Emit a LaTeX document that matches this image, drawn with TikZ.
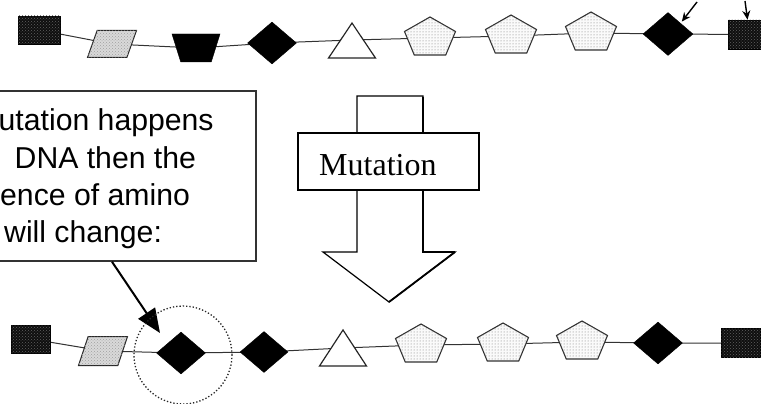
\documentclass[tikz,border=0pt]{standalone}
\usepackage{fontspec}
\setmainfont{Liberation Sans}
\newfontfamily\mutserif{Liberation Serif}
\usetikzlibrary{shapes.geometric,arrows.meta,patterns,backgrounds}
\begin{document}
\begin{tikzpicture}[x=1pt,y=-1pt,
  link/.style={draw=black!80, line width=1pt},
  darksq/.style={rectangle, draw=black, fill=black!94, inner sep=0pt, line width=0.8pt,
     postaction={pattern=crosshatch dots, pattern color=black!62}},
  para/.style={trapezium, trapezium left angle=72, trapezium right angle=108, trapezium stretches,
     draw=black!85, fill=gray!30, minimum width=49pt, minimum height=27pt, inner sep=0.5pt, line width=1pt,
     postaction={pattern=crosshatch dots, pattern color=gray!75}},
  trap/.style={trapezium, trapezium left angle=106, trapezium right angle=106, trapezium stretches,
     fill=black, draw=black, minimum width=48pt, minimum height=28pt, inner sep=0.5pt},
  dia/.style={diamond, fill=black, draw=black, minimum width=49pt, minimum height=42pt, inner sep=0pt},
  tri/.style={regular polygon, regular polygon sides=3, minimum size=54.3pt, yscale=0.86,
     draw=black!85, fill=white, line width=1.2pt, inner sep=0pt},
  pent/.style={regular polygon, regular polygon sides=5, minimum size=53.6pt, yscale=0.784,
     draw=black!80, fill=gray!4, line width=1.1pt, inner sep=0pt,
     postaction={pattern=dots, pattern color=black!55}},
  txt/.style={font=\fontsize{30.2}{36}\selectfont, inner sep=0pt, anchor=base west, text=black},
  smallarrow/.style={line width=1.4pt, -{Stealth[length=9pt,width=8pt]}}
]
\useasboundingbox (0,0) rectangle (761,404);

% ---- top chain ----
\node[darksq, minimum width=42pt, minimum height=28pt] (sq1) at (39,30) {};
\node[para] (pa1) at (112,44) {};
\node[trap] (tz1) at (196,48) {};
\node[dia] (di1) at (272,43) {};
\node[tri] (tr1) at (352,46.4) {};
\node[pent] (pe1) at (430,38) {};
\node[pent] (pe2) at (511,36) {};
\node[pent] (pe3) at (591,33) {};
\node[dia, minimum width=50pt, minimum height=43pt] (di2) at (668,34) {};
\node[darksq, minimum width=39pt, minimum height=29pt] (sq2) at (747.5,34.5) {};

% ---- bottom chain ----
\node[darksq, minimum width=39pt, minimum height=28pt] (sq3) at (31,339) {};
\node[para, minimum height=29pt] (pa2) at (103,351) {};
\node[dia] (di3) at (181,353) {};
\node[dia, minimum width=48pt, minimum height=41pt] (di4) at (264,352) {};
\node[tri, yscale=1.03] (tr2) at (343,354) {};
\node[pent] (pe4) at (421,345) {};
\node[pent] (pe5) at (503,344) {};
\node[pent] (pe6) at (582,342) {};
\node[dia] (di5) at (658,343) {};
\node[darksq, minimum width=39pt, minimum height=29pt] (sq4) at (741,343) {};

\coordinate (tm1) at (352,40);
\coordinate (tm2) at (343,348);
\begin{scope}[on background layer]
  \draw[link] (sq1.center) -- (pa1.center) -- (tz1.center) -- (di1.center) -- (tm1)
     -- (pe1.center) -- (pe2.center) -- (pe3.center) -- (di2.center) -- (sq2.center);
  \draw[link] (sq3.center) -- (pa2.center) -- (di3.center) -- (di4.center) -- (tm2)
     -- (pe4.center) -- (pe5.center) -- (pe6.center) -- (di5.center) -- (sq4.center);
\end{scope}

% small pointer arrows at top right
\coordinate (p1) at (697,2);
\coordinate (p2) at (745,1);
\draw[smallarrow, shorten >=2pt] (p1) -- (di2.north east);
\draw[smallarrow] (p2) -- (sq2.north);

% ---- mutation arrow ----
\draw[line width=1.2pt, fill=white] (357,96) -- (423,96) -- (423,252) -- (455,252) -- (389,302)
   -- (323,252) -- (357,252) -- cycle;
\draw[line width=2.4pt, line join=miter] (423,97) -- (423,252) -- (455,252);
\draw[line width=1.8pt] (455,252) -- (389,302);
\node[draw, line width=1.5pt, fill=white, minimum width=181pt, minimum height=57pt, inner sep=0pt]
   (mutbox) at (388.5,161.5) {};
\node[anchor=base west, inner sep=0pt, font=\mutserif\fontsize{32}{36}\selectfont, text=black]
   (mutlabel) at (319,175) {Mutation};

% ---- callout ----
\node[draw=black!80, line width=1.5pt, minimum width=276pt, minimum height=170pt, inner sep=0pt]
   (callout) at (118,176) {};
\node[txt] (t1) at (-1.5,131) {utation happens};
\node[txt] (t2) at (14.5,168) {DNA then the};
\node[txt] (t3) at (0,205) {ence of amino};
\node[txt] (t4) at (4,242) {will change:};

\coordinate (ctail) at ([xshift=-6pt]callout.south);
\coordinate (ctip) at (160,333);
\draw[line width=2pt, -{Triangle[length=24pt,width=20pt]}] (ctail) -- (ctip);

% dotted ring
\node[circle, draw=black!85, dotted, line width=1.3pt, minimum size=98pt, inner sep=0pt] (ring) at (183,355) {};
\end{tikzpicture}
\end{document}
